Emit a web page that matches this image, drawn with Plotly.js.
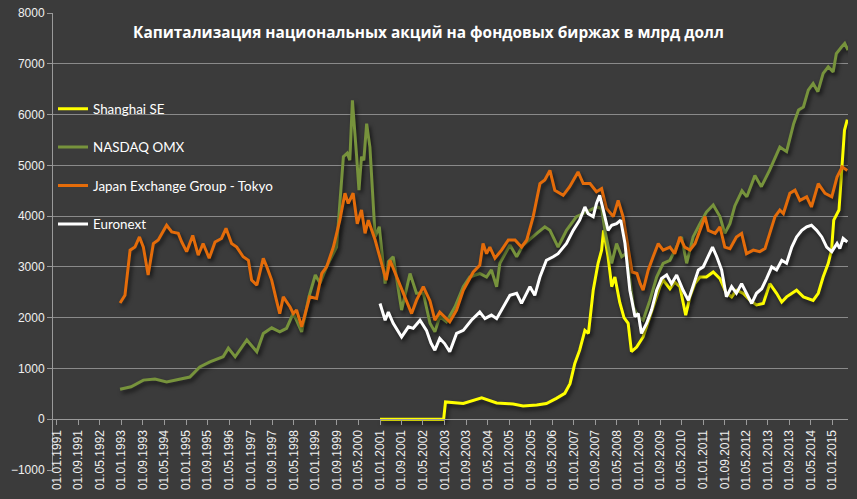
<!DOCTYPE html>
<html>
<head>
<meta charset="utf-8">
<script src="https://cdn.plot.ly/plotly-3.0.1.min.js"></script>
<style>
  html, body { margin: 0; padding: 0; background: #3b3b3b; }
  #chart { width: 857px; height: 499px; }
  .scatterlayer .js-line { filter: drop-shadow(2px 3px 2px rgba(0,0,0,0.65)); }
</style>
</head>
<body>
<div id="chart"></div>
<script>
// Time positions are decimal years; values in billions USD.
const shanghaiT = [2001.0, 2002.97, 2003.03, 2003.58, 2004.15, 2004.61, 2005.12, 2005.43, 2005.85, 2006.15, 2006.46, 2006.72, 2006.88, 2007.03, 2007.18, 2007.34, 2007.45, 2007.6, 2007.75, 2007.86, 2007.92, 2008.06, 2008.17, 2008.27, 2008.42, 2008.55, 2008.68, 2008.78, 2008.94, 2009.14, 2009.45, 2009.66, 2009.76, 2009.97, 2010.12, 2010.28, 2010.46, 2010.59, 2010.74, 2010.9, 2011.1, 2011.31, 2011.52, 2011.72, 2011.88, 2012.03, 2012.24, 2012.45, 2012.65, 2012.86, 2013.06, 2013.27, 2013.43, 2013.58, 2013.89, 2014.1, 2014.4, 2014.56, 2014.71, 2014.87, 2014.97, 2015.04, 2015.2, 2015.3, 2015.37, 2015.46];
const shanghaiV = [0, 0, 340, 310, 420, 320, 300, 260, 280, 310, 410, 510, 700, 1100, 1360, 1750, 1690, 2540, 3070, 3330, 3720, 3200, 2610, 2800, 2300, 2000, 1890, 1330, 1420, 1620, 2210, 2610, 2740, 2570, 2700, 2610, 2050, 2410, 2670, 2800, 2800, 2900, 2770, 2480, 2410, 2540, 2480, 2340, 2250, 2280, 2670, 2480, 2310, 2410, 2540, 2410, 2340, 2480, 2800, 3070, 3330, 3920, 4120, 5040, 5690, 5900];

const nasdaqT = [1992.96, 1993.3, 1993.68, 1994.04, 1994.4, 1994.81, 1995.12, 1995.43, 1995.74, 1996.15, 1996.31, 1996.52, 1996.88, 1997.19, 1997.39, 1997.65, 1997.9, 1998.11, 1998.32, 1998.58, 1998.8, 1999.0, 1999.15, 1999.35, 1999.66, 1999.87, 1999.99, 2000.07, 2000.15, 2000.28, 2000.35, 2000.43, 2000.5, 2000.59, 2000.69, 2000.85, 2000.98, 2001.16, 2001.26, 2001.41, 2001.67, 2001.93, 2002.13, 2002.34, 2002.55, 2002.7, 2002.85, 2003.06, 2003.32, 2003.58, 2003.78, 2004.09, 2004.3, 2004.45, 2004.61, 2004.71, 2005.02, 2005.23, 2005.43, 2005.85, 2006.1, 2006.26, 2006.51, 2006.77, 2007.08, 2007.39, 2007.7, 2007.86, 2007.96, 2008.17, 2008.32, 2008.48, 2008.63, 2008.84, 2008.99, 2009.14, 2009.35, 2009.56, 2009.76, 2009.97, 2010.18, 2010.33, 2010.49, 2010.69, 2010.9, 2011.1, 2011.31, 2011.52, 2011.67, 2011.83, 2011.98, 2012.2, 2012.35, 2012.6, 2012.8, 2013.05, 2013.37, 2013.58, 2013.8, 2013.95, 2014.1, 2014.25, 2014.4, 2014.55, 2014.71, 2014.87, 2015.02, 2015.12, 2015.28, 2015.38, 2015.48];
const nasdaqV = [590, 640, 770, 790, 735, 790, 830, 1030, 1130, 1230, 1400, 1230, 1560, 1330, 1690, 1800, 1720, 1790, 2090, 1720, 2400, 2840, 2680, 3000, 3390, 5170, 5240, 5100, 6280, 5170, 4510, 5170, 5100, 5820, 5360, 3590, 3790, 2670, 3100, 3200, 2150, 2870, 2480, 2480, 1890, 1720, 2020, 1920, 2210, 2610, 2800, 2870, 2800, 2940, 2610, 3070, 3430, 3200, 3430, 3660, 3790, 3720, 3390, 3720, 3990, 4080, 4180, 4150, 3720, 3070, 3460, 3200, 3270, 2210, 2020, 1950, 2340, 2800, 3070, 3130, 3390, 3590, 3070, 3590, 3850, 4080, 4220, 3990, 3660, 3850, 4200, 4500, 4380, 4800, 4580, 4900, 5360, 5270, 5820, 6090, 6150, 6480, 6610, 6450, 6810, 6940, 6840, 7200, 7330, 7400, 7270];

const japanT = [1992.96, 1993.11, 1993.27, 1993.42, 1993.56, 1993.68, 1993.83, 1993.99, 1994.14, 1994.25, 1994.4, 1994.56, 1994.76, 1994.87, 1995.02, 1995.21, 1995.38, 1995.53, 1995.72, 1995.9, 1996.1, 1996.24, 1996.41, 1996.57, 1996.77, 1996.93, 1997.03, 1997.19, 1997.29, 1997.39, 1997.5, 1997.65, 1997.8, 1997.9, 1998.01, 1998.22, 1998.32, 1998.42, 1998.58, 1998.83, 1999.04, 1999.2, 1999.35, 1999.56, 1999.76, 1999.92, 2000.02, 2000.17, 2000.3, 2000.43, 2000.54, 2000.64, 2000.85, 2001.0, 2001.19, 2001.31, 2001.52, 2001.72, 2001.98, 2002.13, 2002.34, 2002.55, 2002.7, 2002.85, 2003.16, 2003.37, 2003.58, 2003.89, 2004.09, 2004.19, 2004.3, 2004.4, 2004.56, 2004.76, 2004.97, 2005.18, 2005.38, 2005.54, 2005.74, 2005.95, 2006.1, 2006.26, 2006.41, 2006.67, 2006.87, 2007.13, 2007.29, 2007.5, 2007.7, 2007.86, 2008.01, 2008.22, 2008.37, 2008.52, 2008.68, 2008.8, 2008.95, 2009.05, 2009.14, 2009.3, 2009.45, 2009.61, 2009.76, 2009.97, 2010.12, 2010.28, 2010.43, 2010.59, 2010.75, 2010.9, 2011.06, 2011.16, 2011.37, 2011.52, 2011.67, 2011.83, 2012.03, 2012.19, 2012.34, 2012.55, 2012.75, 2012.91, 2013.06, 2013.22, 2013.37, 2013.48, 2013.68, 2013.84, 2013.99, 2014.2, 2014.35, 2014.56, 2014.77, 2014.98, 2015.14, 2015.3, 2015.46];
const japanV = [2290, 2440, 3330, 3390, 3590, 3390, 2840, 3460, 3530, 3660, 3820, 3690, 3660, 3490, 3300, 3620, 3230, 3460, 3170, 3490, 3560, 3760, 3460, 3390, 3200, 3130, 2740, 2640, 2900, 3170, 3000, 2740, 2340, 2080, 2410, 2210, 2080, 2150, 1820, 2410, 2380, 2870, 3000, 3390, 3920, 4450, 4250, 4450, 3850, 4120, 3660, 3920, 3530, 3200, 2740, 3130, 2800, 2480, 2080, 2340, 2610, 2330, 1950, 2110, 1920, 2150, 2540, 2900, 3030, 3460, 3260, 3390, 3170, 3330, 3530, 3530, 3390, 3530, 3990, 4640, 4710, 4900, 4510, 4410, 4580, 4870, 4640, 4640, 4480, 4540, 4150, 3990, 4310, 3990, 3400, 2900, 2870, 2670, 2540, 2940, 3200, 3460, 3330, 3390, 3260, 3590, 3390, 3330, 3460, 3720, 3990, 3720, 3660, 3790, 3390, 3360, 3590, 3660, 3260, 3330, 3300, 3360, 3660, 3990, 4120, 4050, 4450, 4510, 4310, 4380, 4180, 4640, 4450, 4380, 4770, 4970, 4900];

const euronextT = [2001.0, 2001.16, 2001.26, 2001.41, 2001.67, 2001.88, 2002.03, 2002.24, 2002.44, 2002.58, 2002.7, 2002.85, 2003.0, 2003.16, 2003.37, 2003.58, 2003.83, 2004.09, 2004.25, 2004.45, 2004.61, 2004.81, 2005.02, 2005.23, 2005.38, 2005.64, 2005.79, 2005.95, 2006.15, 2006.36, 2006.51, 2006.77, 2006.98, 2007.18, 2007.34, 2007.44, 2007.6, 2007.7, 2007.8, 2007.91, 2008.06, 2008.17, 2008.32, 2008.45, 2008.58, 2008.73, 2008.89, 2008.99, 2009.09, 2009.25, 2009.4, 2009.56, 2009.71, 2009.87, 2010.02, 2010.18, 2010.38, 2010.54, 2010.69, 2010.85, 2011.0, 2011.16, 2011.29, 2011.42, 2011.57, 2011.72, 2011.88, 2012.03, 2012.19, 2012.34, 2012.5, 2012.65, 2012.81, 2012.96, 2013.12, 2013.27, 2013.43, 2013.58, 2013.74, 2013.89, 2014.05, 2014.2, 2014.35, 2014.51, 2014.67, 2014.82, 2014.98, 2015.14, 2015.23, 2015.33, 2015.46];
const euronextV = [2280, 1950, 2110, 1890, 1620, 1820, 1790, 1950, 1750, 1500, 1360, 1590, 1490, 1330, 1690, 1750, 1950, 2110, 1980, 2050, 1980, 2210, 2440, 2480, 2280, 2610, 2440, 2800, 3130, 3200, 3260, 3460, 3720, 3920, 4180, 4050, 3990, 4250, 4410, 4120, 3720, 3820, 3850, 3920, 3460, 2540, 2020, 2080, 1690, 1890, 2150, 2540, 2770, 2840, 2670, 2840, 2540, 2340, 2610, 2940, 3000, 3200, 3390, 3200, 2940, 2410, 2610, 2480, 2670, 2480, 2280, 2480, 2570, 2770, 3000, 2940, 3130, 3070, 3390, 3590, 3720, 3790, 3820, 3720, 3590, 3390, 3300, 3460, 3360, 3560, 3490];

const seriesNames = ['Shanghai SE', 'NASDAQ OMX', 'Japan Exchange Group - Tokyo', 'Euronext'];
const seriesColors = ['#ffff00', '#77933c', '#e46c0a', '#ffffff'];
const titleText = 'Капитализация национальных акций на фондовых биржах в млрд долл';

function toDate(d) {
  const y = Math.floor(d);
  const f = d - y;
  const a = Date.UTC(y, 0, 1), b = Date.UTC(y + 1, 0, 1);
  return new Date(a + f * (b - a)).toISOString().slice(0, 10);
}

const sets = [[shanghaiT, shanghaiV], [nasdaqT, nasdaqV], [japanT, japanV], [euronextT, euronextV]];
const traces = sets.map((s, i) => ({
  type: 'scatter',
  mode: 'lines',
  name: seriesNames[i],
  legendgroup: 'g' + i,
  x: s[0].map(toDate),
  y: s[1],
  line: { color: seriesColors[i], width: 3 },
  hoverinfo: 'x+y+name'
}));

const layout = {
  width: 857,
  height: 499,
  paper_bgcolor: '#3b3b3b',
  plot_bgcolor: '#3b3b3b',
  margin: { l: 53, r: 9, t: 13, b: 29 },
  showlegend: true,
  title: {
    text: '<b>' + titleText + '</b>',
    font: { family: 'Open Sans, sans-serif', size: 15.4, color: '#ffffff' },
    x: 0.5, xref: 'container', xanchor: 'center',
    y: 1 - 33 / 499, yref: 'container', yanchor: 'middle'
  },
  legend: {
    x: 0.0, xanchor: 'left', y: 0.824, yanchor: 'top',
    bgcolor: 'rgba(0,0,0,0)',
    font: { family: 'Lato, Open Sans, sans-serif', size: 13.4, color: '#ffffff' },
    tracegroupgap: 18,
    traceorder: 'grouped'
  },
  xaxis: {
    type: 'date',
    range: ['1990-11-20', '2015-06-25'],
    tick0: '1991-01-01',
    dtick: 'M8',
    tickformat: '%d.%m.%Y',
    tickangle: -90,
    anchor: 'free',
    position: 1 / 9,
    showline: true,
    linecolor: '#9a9a9a',
    linewidth: 1,
    ticks: 'outside',
    ticklen: 5,
    tickcolor: '#9a9a9a',
    showgrid: false,
    zeroline: false,
    tickfont: { family: 'Liberation Sans, Arial, sans-serif', size: 12, color: '#f0f0f0' }
  },
  yaxis: {
    range: [-1000, 8000],
    dtick: 1000,
    tick0: 0,
    showline: true,
    linecolor: '#9a9a9a',
    linewidth: 1,
    ticks: 'outside',
    ticklen: 5,
    tickcolor: '#9a9a9a',
    gridcolor: '#8a8a8a',
    gridwidth: 1,
    zeroline: false,
    tickfont: { family: 'Liberation Sans, Arial, sans-serif', size: 12, color: '#f0f0f0' }
  }
};

Plotly.newPlot('chart', traces, layout, { displayModeBar: false, staticPlot: true });
</script>
</body>
</html>
